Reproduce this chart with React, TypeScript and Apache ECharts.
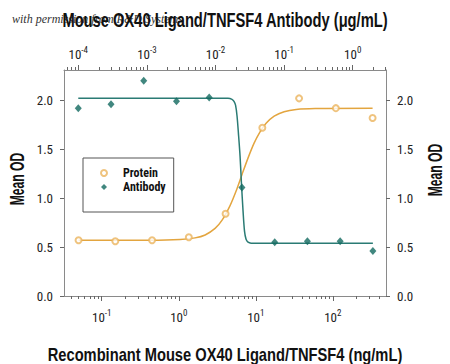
import React, { useEffect, useRef } from 'react';
import * as echarts from 'echarts';

// Recombinant protein (ng/mL, bottom axis) and its OD readings
const proteinConc = [0.05, 0.15, 0.45, 1.35, 4.05, 12.15, 36.45, 109.4, 328];
const proteinOD = [0.57, 0.56, 0.57, 0.6, 0.84, 1.72, 2.02, 1.92, 1.82];

// Antibody (µg/mL, top axis) and its OD readings
const antibodyConc = [0.0001, 0.0003, 0.0009, 0.0027, 0.0081, 0.0243, 0.0729, 0.2187, 0.6561, 1.968];
const antibodyOD = [1.92, 1.96, 2.2, 1.99, 2.03, 1.11, 0.55, 0.56, 0.56, 0.46];

// Fitted curves
const proteinFitConc = [0.05, 0.424, 1.04, 1.63, 2.2, 2.96, 3.65, 4.63, 5.55, 6.64, 7.94, 9.5, 11.4, 13.6, 17.3, 23.3, 33.4, 58.9, 328];
const proteinFitOD = [0.57, 0.57, 0.577, 0.594, 0.624, 0.691, 0.775, 0.924, 1.073, 1.245, 1.412, 1.562, 1.68, 1.765, 1.838, 1.884, 1.907, 1.917, 1.92];

const antibodyFitConc = [0.0001, 0.0152, 0.0174, 0.0186, 0.0196, 0.0206, 0.0216, 0.0228, 0.0239, 0.0252, 0.0265, 0.0279, 0.0298, 0.033, 1.968];
const antibodyFitOD = [2.02, 2.02, 2.01, 1.99, 1.95, 1.84, 1.66, 1.43, 1.15, 0.87, 0.66, 0.58, 0.55, 0.54, 0.54];

// Axis ticks (decade exponents) and OD ticks
const bottomDecades = [-1, 0, 1, 2];
const topDecades = [-4, -3, -2, -1, 0];
const odTicks = [0, 0.5, 1.0, 1.5, 2.0];

const BOTTOM_MIN = -1.49;
const BOTTOM_MAX = 2.69;
const TOP_MIN = -4.208;
const TOP_MAX = 0.485;
const OD_MAX = 2.31;

const ORANGE = '#E3A53F';
const TEAL = '#11695F';
const TEAL_LINE = '#2A7B74';
const AXIS = '#8a8a8a';
const FONT = "'Liberation Sans Narrow', 'Roboto Condensed', 'DejaVu Sans Condensed', 'Liberation Sans', sans-serif";
const TITLE_FONT = "'Liberation Sans', Arial, sans-serif";

function minorTicks(min: number, max: number): number[] {
  const out: number[] = [];
  for (let k = Math.floor(min); k <= Math.ceil(max); k++) {
    for (let m = 2; m <= 9; m++) {
      const v = k + Math.log10(m);
      if (v > min && v < max) out.push(v);
    }
  }
  return out;
}

const pairs = (xs: number[], ys: number[]) => xs.map((x, i) => [Math.log10(x), ys[i]]);

const powLabel = (v: number) => `{b|10}{s|${Math.round(v)}}`;
const powRich = {
  b: { fontSize: 13, fontFamily: FONT, color: '#222', verticalAlign: 'bottom', lineHeight: 16 },
  s: { fontSize: 9, fontFamily: FONT, color: '#222', verticalAlign: 'top', lineHeight: 16 },
};

export default function App() {
  const ref = useRef<HTMLDivElement>(null);

  useEffect(() => {
    if (!ref.current) return;
    const chart = echarts.init(ref.current, undefined, { renderer: 'svg' });

    const majorAxis = (position: 'top' | 'bottom', min: number, max: number, decades: number[], margin: number) => ({
      type: 'value',
      position,
      min,
      max,
      axisLine: { show: true, onZero: false, lineStyle: { color: AXIS, width: 1 } },
      axisTick: { show: true, customValues: decades, length: 5, lineStyle: { color: '#666' } },
      axisLabel: { show: true, customValues: decades, formatter: powLabel, rich: powRich, margin },
      splitLine: { show: false },
    });
    const minorAxis = (position: 'top' | 'bottom', min: number, max: number) => ({
      type: 'value',
      position,
      min,
      max,
      axisLine: { show: false, onZero: false },
      axisTick: { show: true, customValues: minorTicks(min, max), length: 3, lineStyle: { color: '#666' } },
      axisLabel: { show: false },
      splitLine: { show: false },
    });
    const odAxis = (position: 'left' | 'right') => ({
      type: 'value',
      position,
      min: 0,
      max: OD_MAX,
      axisLine: { show: true, onZero: false, lineStyle: { color: AXIS, width: 1 } },
      axisTick: { show: true, customValues: odTicks, length: 4, lineStyle: { color: '#666' } },
      axisLabel: {
        show: true,
        customValues: odTicks,
        formatter: (v: number) => v.toFixed(1),
        fontSize: 13,
        fontFamily: FONT,
        color: '#222',
        margin: 11,
      },
      splitLine: { show: false },
    });

    const meanOD = (x: number, y: number) => ({
      type: 'text',
      x,
      y,
      rotation: Math.PI / 2,
      scaleX: 0.58,
      style: {
        text: 'Mean OD',
        fontSize: 21,
        fontWeight: 'bold',
        fontFamily: TITLE_FONT,
        fill: '#111',
        textAlign: 'center',
        textVerticalAlign: 'middle',
      },
    });

    chart.setOption({
      animation: false,
      backgroundColor: '#ffffff',
      grid: { left: 64, right: 64, top: 70, bottom: 68, containLabel: false, outerBoundsMode: 'none' },
      xAxis: [
        majorAxis('bottom', BOTTOM_MIN, BOTTOM_MAX, bottomDecades, 12),
        minorAxis('bottom', BOTTOM_MIN, BOTTOM_MAX),
        majorAxis('top', TOP_MIN, TOP_MAX, topDecades, 9),
        minorAxis('top', TOP_MIN, TOP_MAX),
      ],
      yAxis: [odAxis('left'), odAxis('right')],
      legend: {
        data: ['Protein', 'Antibody'],
        orient: 'vertical',
        left: 83,
        top: 158,
        padding: [9, 8, 19, 17],
        itemGap: 2,
        itemWidth: 6,
        itemHeight: 6,
        borderColor: '#555',
        borderWidth: 1,
        textStyle: { fontSize: 12, fontWeight: 'bold', fontFamily: FONT, color: '#111', padding: [0, 0, 0, 11], lineHeight: 12 },
      },
      graphic: [
        {
          type: 'text',
          x: 12,
          y: 19,
          z: 1,
          style: { text: 'with permission from R&D Systems', font: 'italic 12px serif', fill: '#333', textVerticalAlign: 'middle' },
        },
        {
          type: 'text',
          x: 225,
          y: 20,
          z: 10,
          scaleX: 0.735,
          style: {
            text: 'Mouse OX40 Ligand/TNFSF4 Antibody (\u03bcg/mL)',
            fontSize: 20,
            fontWeight: 'bold',
            fontFamily: TITLE_FONT,
            fill: '#111',
            textAlign: 'center',
            textVerticalAlign: 'middle',
          },
        },
        {
          type: 'text',
          x: 225,
          y: 354,
          z: 10,
          scaleX: 0.816,
          style: {
            text: 'Recombinant Mouse OX40 Ligand/TNFSF4 (ng/mL)',
            fontSize: 18,
            fontWeight: 'bold',
            fontFamily: TITLE_FONT,
            fill: '#111',
            textAlign: 'center',
            textVerticalAlign: 'middle',
          },
        },
        meanOD(17, 179),
        meanOD(435, 170),
      ],
      series: [
        {
          name: 'Protein fit',
          type: 'line',
          xAxisIndex: 0,
          yAxisIndex: 0,
          data: pairs(proteinFitConc, proteinFitOD),
          showSymbol: false,
          smooth: 0.3,
          lineStyle: { color: ORANGE, width: 1.5 },
          itemStyle: { color: ORANGE },
          z: 2,
        },
        {
          name: 'Antibody fit',
          type: 'line',
          xAxisIndex: 2,
          yAxisIndex: 0,
          data: pairs(antibodyFitConc, antibodyFitOD),
          showSymbol: false,
          smooth: 0.3,
          lineStyle: { color: TEAL_LINE, width: 1.5 },
          itemStyle: { color: TEAL_LINE },
          z: 2,
        },
        {
          name: 'Protein',
          type: 'scatter',
          xAxisIndex: 0,
          yAxisIndex: 0,
          data: pairs(proteinConc, proteinOD),
          symbol: 'emptyCircle',
          symbolSize: 6,
          itemStyle: { color: '#EBB45E', borderColor: '#EBB45E', borderWidth: 0.9 },
          z: 3,
        },
        {
          name: 'Antibody',
          type: 'scatter',
          xAxisIndex: 2,
          yAxisIndex: 0,
          data: pairs(antibodyConc, antibodyOD),
          symbol: 'diamond',
          symbolSize: [7, 8],
          itemStyle: { color: TEAL },
          z: 3,
        },
      ],
    });

    return () => chart.dispose();
  }, []);

  return (
    <div
      ref={ref}
      style={{ position: 'fixed', left: 0, top: 0, width: 450, height: 364, background: '#fff' }}
    />
  );
}
